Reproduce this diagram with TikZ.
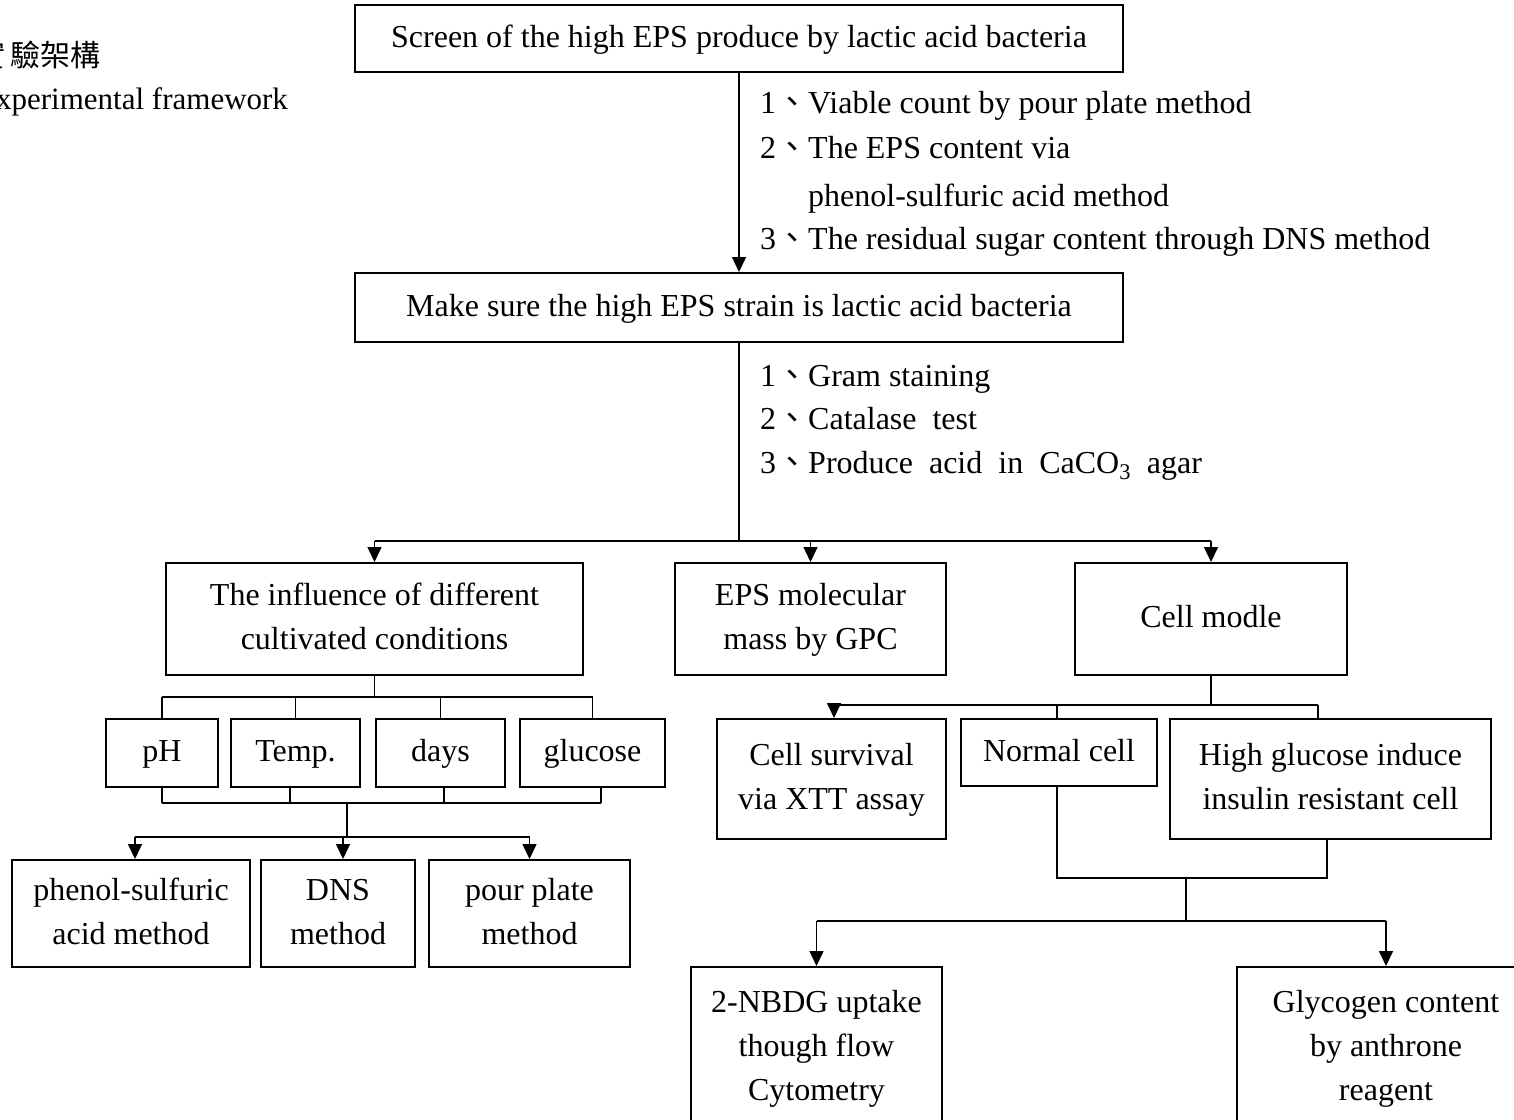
\documentclass[tikz,border=0pt]{standalone}
\usepackage{fontspec}
\setmainfont{Liberation Serif}
\newfontfamily\cjk{Noto Sans CJK TC}
\usetikzlibrary{arrows.meta}

\tikzset{
  box/.style={draw, line width=2pt, inner sep=0pt, align=center,
              font=\fontsize{32}{44}\selectfont},
  conn/.style={line width=1.5pt},
  arr/.style={line width=1.5pt, -{Triangle[length=15pt,width=14pt]}},
  item/.style={inner sep=0pt, anchor=base west, font=\fontsize{32}{44}\selectfont},
}
\newcommand\dunhao{{\cjk 、}}
\newcommand\bl[1]{\strut #1}

\begin{document}
\begin{tikzpicture}[x=1pt, y=-1pt]
  \path[use as bounding box, clip] (0,0) rectangle (1514,1119);
  \fill[white] (0,0) rectangle (1514,1119);

  % caption in the upper left corner
  \node[anchor=base east, inner sep=0pt, font=\cjk\fontsize{30}{30}\selectfont] (capzh) at (101,66) {實\hspace{5pt}驗架構};
  \node[anchor=base west, inner sep=0pt, font=\fontsize{31}{31}\selectfont] (capen) at (-23,109) {Experimental framework};

  % main chain
  \node[box, minimum width=768pt, minimum height=67pt] (top) at (739,38.5)
    {\bl{Screen of the high EPS produce by lactic acid bacteria}};
  \node[box, minimum width=768pt, minimum height=69pt] (mid) at (739,307.5)
    {\bl{Make sure the high EPS strain is lactic acid bacteria}};

  \node[item] (a1) at (760,113) {1\dunhao Viable count by pour plate method};
  \node[item] (a2) at (760,158) {2\dunhao The EPS content via};
  \node[item] (a2b) at (808,206) {phenol-sulfuric acid method};
  \node[item] (a3) at (760,249) {3\dunhao The residual sugar content through DNS method};

  \node[item] (b1) at (760,386) {1\dunhao Gram staining};
  \node[item] (b2) at (760,429) {2\dunhao Catalase\ \ test};
  \node[item] (b3) at (760,473) {3\dunhao Produce\ \ acid\ \ in\ \ CaCO\textsubscript{3}\ \ agar};

  % first row of branches
  \node[box, minimum width=417pt, minimum height=112pt] (infl) at (374.5,619)
    {\bl{The influence of different}\\\bl{cultivated conditions}};
  \node[box, minimum width=271pt, minimum height=112pt] (eps) at (810.5,619)
    {\bl{EPS molecular}\\\bl{mass by GPC}};
  \node[box, minimum width=272pt, minimum height=112pt] (cellm) at (1211,619)
    {\bl{Cell modle}};

  % cultivation conditions
  \node[box, minimum width=112pt, minimum height=68pt] (ph) at (162,753) {\bl{pH}};
  \node[box, minimum width=129pt, minimum height=68pt] (temp) at (295.5,753) {\bl{Temp.}};
  \node[box, minimum width=129pt, minimum height=68pt] (days) at (440.5,753) {\bl{days}};
  \node[box, minimum width=145pt, minimum height=68pt] (glu) at (592.5,753) {\bl{glucose}};

  \node[box, minimum width=238pt, minimum height=107pt] (phen) at (131,913.5)
    {\bl{phenol-sulfuric}\\\bl{acid method}};
  \node[box, minimum width=154pt, minimum height=107pt] (dns) at (338,913.5)
    {\bl{DNS}\\\bl{method}};
  \node[box, minimum width=201pt, minimum height=107pt] (pour) at (529.5,913.5)
    {\bl{pour plate}\\\bl{method}};

  % cell model
  \node[box, minimum width=229pt, minimum height=120pt] (surv) at (831.5,779)
    {\bl{Cell survival}\\\bl{via XTT assay}};
  \node[box, minimum width=196pt, minimum height=67pt] (norm) at (1059,752.5)
    {\bl{Normal cell}};
  \node[box, minimum width=321pt, minimum height=120pt] (high) at (1330.5,779)
    {\bl{High glucose induce}\\\bl{insulin resistant cell}};

  \node[box, minimum width=251pt, minimum height=162pt] (nbdg) at (816.5,1048)
    {\bl{2-NBDG uptake}\\\bl{though flow}\\\bl{Cytometry}};
  \node[box, minimum width=298pt, minimum height=162pt] (glyc) at (1386,1048)
    {\bl{Glycogen content}\\\bl{by anthrone}\\\bl{reagent}};

  % connectors: main chain
  \draw[arr] (top.south) -- (mid.north);
  \coordinate (j1) at (739,541);
  \draw[conn] (mid.south) -- (j1);
  \draw[conn] (infl.north |- j1) -- (cellm.north |- j1);
  \foreach \n in {infl,eps,cellm}
    \draw[arr] (\n.north |- j1) -- (\n.north);

  % connectors: cultivation conditions
  \coordinate (j2) at (372,697);
  \draw[conn] (infl.south) -- (infl.south |- j2);
  \draw[conn] (ph.north |- j2) -- (glu.north |- j2);
  \foreach \n in {ph,temp,days,glu}
    \draw[conn] (\n.north |- j2) -- (\n.north);
  \coordinate (j3) at (347,803);
  \coordinate (j4) at (347,837);
  \draw[conn] (ph.south) -- (ph.south |- j3);
  \draw[conn] ([xshift=-5.5pt]temp.south) -- ([xshift=-5.5pt]temp.south |- j3);
  \draw[conn] ([xshift=3.5pt]days.south) -- ([xshift=3.5pt]days.south |- j3);
  \draw[conn] ([xshift=8.5pt]glu.south) -- ([xshift=8.5pt]glu.south |- j3);
  \draw[conn] (ph.south |- j3) -- ([xshift=8.5pt]glu.south |- j3);
  \draw[conn] (j3) -- (j4);
  \draw[conn] ([xshift=4pt]phen.north |- j4) -- (pour.north |- j4);
  \draw[arr] ([xshift=4pt]phen.north |- j4) -- ([xshift=4pt]phen.north);
  \draw[arr] ([xshift=5pt]dns.north |- j4) -- ([xshift=5pt]dns.north);
  \draw[arr] (pour.north |- j4) -- (pour.north);

  % connectors: cell model
  \coordinate (j5) at (1221,705);
  \draw[conn] (cellm.south) -- (cellm.south |- j5);
  \draw[conn] ([xshift=2.5pt]surv.north |- j5) -- ([xshift=-12.5pt]high.north |- j5);
  \draw[arr] ([xshift=2.5pt]surv.north |- j5) -- ([xshift=2.5pt]surv.north);
  \draw[conn] ([xshift=-2pt]norm.north |- j5) -- ([xshift=-2pt]norm.north);
  \draw[conn] ([xshift=-12.5pt]high.north |- j5) -- ([xshift=-12.5pt]high.north);
  \coordinate (j6) at (1186,878);
  \coordinate (j7) at (1186,921);
  \draw[conn] ([xshift=-2pt]norm.south) -- ([xshift=-2pt]norm.south |- j6)
    -- ([xshift=-3.5pt]high.south |- j6) -- ([xshift=-3.5pt]high.south);
  \draw[conn] (j6) -- (j7);
  \draw[conn] (nbdg.north |- j7) -- (glyc.north |- j7);
  \draw[arr] (nbdg.north |- j7) -- (nbdg.north);
  \draw[arr] (glyc.north |- j7) -- (glyc.north);
\end{tikzpicture}
\end{document}
